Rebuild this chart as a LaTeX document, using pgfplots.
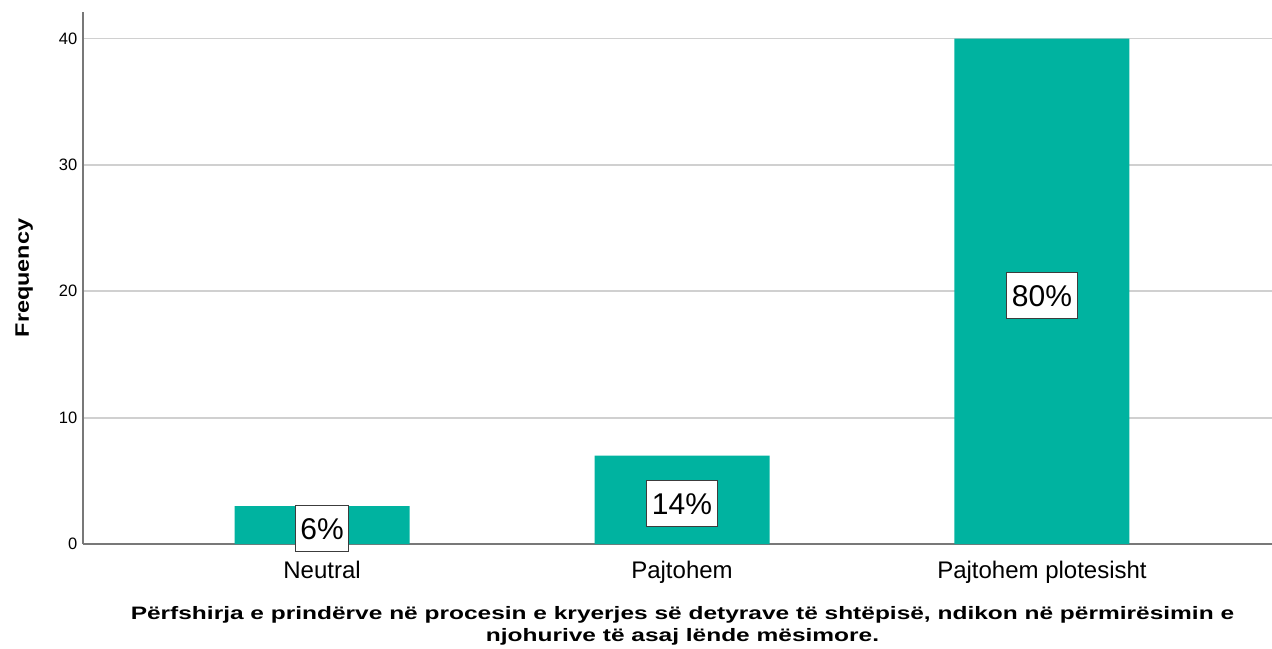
\documentclass[border=0pt]{standalone}
\usepackage{fontspec}
\setmainfont{Liberation Sans}
\newfontfamily\widefont[FakeStretch=1.36]{Liberation Sans}
\newfontfamily\yfont[FakeStretch=1.2]{Liberation Sans}
\usepackage{pgfplots}
\pgfplotsset{compat=1.18}
\usetikzlibrary{calc}
\definecolor{barteal}{RGB}{0,179,160}
\definecolor{gridgray}{RGB}{208,208,208}
\definecolor{axisgray}{RGB}{120,120,120}
\definecolor{boxgray}{RGB}{60,60,60}

\begin{document}
\begin{tikzpicture}
\begin{axis}[
  scale only axis, width=1189pt, height=532pt,
  xmin=-0.664, xmax=2.639, ymin=0, ymax=42.1,
  axis lines=left, axis line style={-, axisgray, line width=1.6pt},
  tick style={draw=none},
  ytick={0,10,20,30,40}, xtick={0,1,2},
  xticklabels={Neutral,Pajtohem,Pajtohem plotesisht},
  ymajorgrids, grid style={gridgray, line width=1.8pt},
  yticklabel style={font=\fontsize{16.5}{16.5}\selectfont, /pgf/number format/assume math mode=true},
  xticklabel style={font=\fontsize{24}{24}\selectfont, yshift=-11pt},
  ylabel={\textbf{Frequency}},
  ylabel style={font=\yfont\fontsize{19.5}{19.5}\selectfont, at={(axis description cs:0,0.5)}, anchor=south, inner sep=0pt, yshift=50pt},
  xlabel={\textbf{Përfshirja e prindërve në procesin e kryerjes së detyrave të shtëpisë,  ndikon në përmirësimin e}\\\textbf{njohurive të asaj lënde mësimore.}},
  xlabel style={font=\widefont\fontsize{18}{22}\selectfont, align=center, at={(axis description cs:0.5,0)}, anchor=north, yshift=-62pt, xshift=5pt, inner sep=0pt},
  clip=false,
]
\addplot[ybar, bar width=175pt, fill=barteal, draw=none] coordinates {
(0,3)
(1,7)
(2,40)
};
\tikzset{pct/.style={draw=boxgray, line width=1pt, fill=white, font=\fontsize{30}{30}\selectfont, inner xsep=5pt, minimum height=46pt}}
\node[pct] at (axis cs:0,1.19) {6\%};
\node[pct] at (axis cs:1,3.17) {14\%};
\node[pct] at (axis cs:2,19.64) {80\%};
\coordinate (bl) at (rel axis cs:0,0);
\coordinate (tr) at (rel axis cs:1,1);
\end{axis}
\pgfresetboundingbox
\path[use as bounding box] ($(bl)+(-83pt,-104pt)$) rectangle ($(tr)+(0,12pt)$);
\end{tikzpicture}
\end{document}
